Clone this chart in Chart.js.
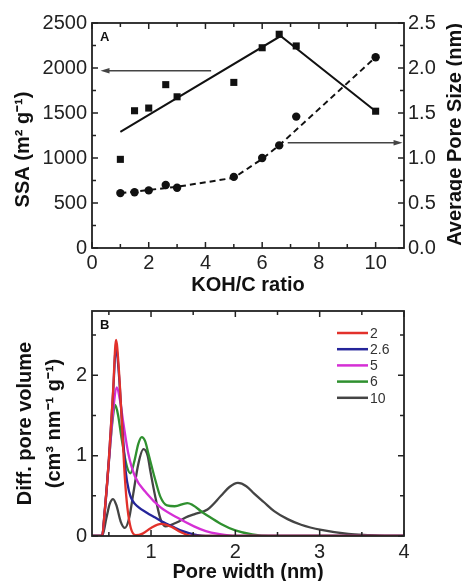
<!DOCTYPE html>
<html>
<head>
<meta charset="utf-8">
<script src="https://cdn.jsdelivr.net/npm/chart.js@4.4.0/dist/chart.umd.min.js"></script>
<style>
  html, body { margin: 0; padding: 0; background: #fff; overflow: hidden; }
  #wrap { position: relative; width: 462px; height: 581px; }
  #chartA { position: absolute; left: 0; top: 0; }
  #chartB { position: absolute; left: 0; top: 290px; }
</style>
</head>
<body>
<div id="wrap">
  <canvas id="chartA" width="462" height="300"></canvas>
  <canvas id="chartB" width="462" height="296"></canvas>
</div>
<script>
// ---- Panel A: SSA and average pore size vs KOH/C ratio
const kohRatio = [1, 1.5, 2, 2.6, 3, 5, 6, 6.6, 7.2, 10];
const ssa = [985, 1525, 1555, 1815, 1680, 1840, 2225, 2375, 2245, 1520];
const poreSize = [0.61, 0.62, 0.64, 0.70, 0.67, 0.79, 1.00, 1.14, 1.46, 2.12];

// guide lines through the points
const ssaTrendX = [1, 6.65, 10];
const ssaTrendY = [1290, 2355, 1520];
const poreTrendX = [1, 3, 5, 6, 6.6, 10];
const poreTrendY = [0.61, 0.68, 0.78, 0.99, 1.14, 2.12];

// arrows pointing at each axis (x from -> to, at y)
const ssaArrowX = [4.2, 0.3];
const ssaArrowY = 1970;
const poreArrowX = [6.9, 10.95];
const poreArrowY = 1.17;

const ratioTicks = [0, 2, 4, 6, 8, 10];
const ratioMinor = [1, 3, 5, 7, 9];
const ssaTicks = [0, 500, 1000, 1500, 2000, 2500];
const ssaMinor = [250, 750, 1250, 1750, 2250];
const poreSizeTicks = [0, 0.5, 1, 1.5, 2, 2.5];

// ---- Panel B: pore size distributions
const kohLabels = ["2", "2.6", "5", "6", "10"];
const width2 = [0.30, 0.42, 0.45, 0.50, 0.55, 0.585, 0.62, 0.655, 0.69, 0.72, 0.76, 0.82, 0.90, 1.00, 1.12, 1.25, 1.35, 1.48, 4.0];
const dpv2 = [0, 0, 0.30, 0.95, 1.80, 2.44, 2.05, 1.40, 0.72, 0.35, 0.10, 0.01, 0.03, 0.10, 0.15, 0.11, 0.05, 0, 0];
const width26 = [0.30, 0.42, 0.45, 0.50, 0.55, 0.585, 0.62, 0.66, 0.70, 0.74, 0.78, 0.85, 0.95, 1.05, 1.15, 1.25, 1.35, 1.45, 1.55, 1.65, 4.0];
const dpv26 = [0, 0, 0.30, 0.95, 1.78, 2.35, 2.0, 1.35, 0.80, 0.55, 0.44, 0.36, 0.29, 0.23, 0.17, 0.12, 0.07, 0.035, 0.01, 0, 0];
const width5 = [0.30, 0.42, 0.45, 0.50, 0.55, 0.595, 0.63, 0.67, 0.73, 0.81, 0.95, 1.11, 1.31, 1.51, 1.65, 1.8, 2.0, 4.0];
const dpv5 = [0, 0, 0.28, 0.92, 1.55, 1.85, 1.70, 1.42, 1.03, 0.74, 0.53, 0.36, 0.23, 0.12, 0.06, 0.025, 0, 0];
const width6 = [0.30, 0.42, 0.45, 0.50, 0.545, 0.575, 0.61, 0.65, 0.71, 0.755, 0.80, 0.85, 0.89, 0.93, 0.97, 1.05, 1.11, 1.19, 1.28, 1.43, 1.63, 1.83, 2.0, 2.2, 2.4, 4.0];
const dpv6 = [0, 0, 0.28, 0.92, 1.45, 1.63, 1.50, 1.22, 0.88, 0.78, 0.92, 1.15, 1.23, 1.18, 1.02, 0.70, 0.49, 0.38, 0.37, 0.41, 0.28, 0.15, 0.07, 0.02, 0, 0];
const width10 = [0.30, 0.42, 0.47, 0.51, 0.55, 0.59, 0.64, 0.69, 0.74, 0.79, 0.85, 0.91, 0.96, 0.99, 1.05, 1.11, 1.17, 1.24, 1.31, 1.41, 1.51, 1.67, 1.83, 1.93, 2.03, 2.13, 2.22, 2.34, 2.46, 2.62, 2.78, 3.02, 3.34, 3.6, 3.8, 4.0];
const dpv10 = [0, 0, 0.22, 0.40, 0.46, 0.38, 0.18, 0.10, 0.22, 0.53, 0.90, 1.08, 1.0, 0.82, 0.49, 0.22, 0.12, 0.14, 0.17, 0.23, 0.27, 0.33, 0.50, 0.61, 0.66, 0.62, 0.53, 0.42, 0.31, 0.21, 0.14, 0.075, 0.025, 0.01, 0, 0];
const curveColors = ["#e2312b", "#25259a", "#d52fd5", "#2f902f", "#444444"];

const widthTicks = [1, 2, 3, 4];
const widthMinor = [0.5, 1.5, 2.5, 3.5];
const dpvTicks = [0, 1, 2];
const dpvMinor = [0.5, 1.5, 2.5];

const FONT = '"Liberation Sans", Arial, sans-serif';
const tickFont = { family: FONT, size: 20 };
const titleFont = { family: FONT, size: 20, weight: "bold" };
const toPoints = (xs, ys) => xs.map((x, i) => ({ x, y: ys[i] }));
const setTicks = (vals) => (s) => { s.ticks = vals.map((v) => ({ value: v })); };

// frame, inward ticks and the panel letter
const frameTicks = {
  id: "frameTicks",
  afterDatasetsDraw(chart, args, opts) {
    const { ctx, chartArea: a, scales } = chart;
    ctx.save();
    ctx.strokeStyle = "#222";
    ctx.lineWidth = 1.5;
    ctx.beginPath();
    const mark = (scale, values, len) => {
      values.forEach((v) => {
        const p = scale.getPixelForValue(v);
        if (scale.isHorizontal()) {
          ctx.moveTo(p, a.bottom); ctx.lineTo(p, a.bottom - len);
          ctx.moveTo(p, a.top); ctx.lineTo(p, a.top + len);
        } else {
          ctx.moveTo(a.left, p); ctx.lineTo(a.left + len, p);
          ctx.moveTo(a.right, p); ctx.lineTo(a.right - len, p);
        }
      });
    };
    mark(scales.x, opts.xMajor, 6);
    mark(scales.x, opts.xMinor, 4);
    mark(scales.y, opts.yMajor, 6);
    mark(scales.y, opts.yMinor, 4);
    ctx.stroke();
    ctx.lineWidth = 1.8;
    ctx.strokeRect(a.left, a.top, a.right - a.left, a.bottom - a.top);
    ctx.fillStyle = "#111";
    ctx.font = "bold 13px " + FONT;
    ctx.textBaseline = "middle";
    ctx.fillText(opts.letter, a.left + 8, a.top + 14);
    ctx.restore();
  },
};

// panel A: arrows and both rotated axis titles
const arrowsAndTitles = {
  id: "arrowsAndTitles",
  afterDraw(chart) {
    const { ctx, chartArea: a, scales } = chart;
    const arrow = (xs, yVal, yScale) => {
      const x0 = scales.x.getPixelForValue(xs[0]);
      const x1 = scales.x.getPixelForValue(xs[1]);
      const y = yScale.getPixelForValue(yVal);
      const dir = Math.sign(x1 - x0);
      ctx.beginPath();
      ctx.moveTo(x0, y); ctx.lineTo(x1 - dir * 6, y);
      ctx.stroke();
      ctx.beginPath();
      ctx.moveTo(x1, y);
      ctx.lineTo(x1 - dir * 9, y - 2.8);
      ctx.lineTo(x1 - dir * 9, y + 2.8);
      ctx.closePath();
      ctx.fill();
    };
    ctx.save();
    ctx.strokeStyle = "#444";
    ctx.fillStyle = "#444";
    ctx.lineWidth = 1.5;
    arrow(ssaArrowX, ssaArrowY, scales.y);
    arrow(poreArrowX, poreArrowY, scales.y2);

    const mid = (a.top + a.bottom) / 2;
    ctx.font = "bold 20px " + FONT;
    ctx.fillStyle = "#111";
    ctx.textAlign = "center";
    ctx.textBaseline = "middle";
    [[23, mid + 14, "SSA (m² g⁻¹)"], [455, mid - 1, "Average Pore Size (nm)"]].forEach(([x, y, t]) => {
      ctx.save();
      ctx.translate(x, y);
      ctx.rotate(-Math.PI / 2);
      ctx.fillText(t, 0, 0);
      ctx.restore();
    });
    ctx.restore();
  },
};

// panel B: legend in the upper right of the plot
const legendB = {
  id: "legendB",
  afterDraw(chart) {
    const { ctx, chartArea: a } = chart;
    ctx.save();
    ctx.font = "14px " + FONT;
    ctx.textBaseline = "middle";
    chart.data.datasets.forEach((ds, i) => {
      const y = a.top + 22 + i * 16.2;
      const x0 = a.right - 67;
      ctx.strokeStyle = ds.borderColor;
      ctx.lineWidth = 2.5;
      ctx.beginPath();
      ctx.moveTo(x0, y);
      ctx.lineTo(x0 + 31, y);
      ctx.stroke();
      ctx.fillStyle = "#333";
      ctx.fillText(ds.label, x0 + 33, y + 1);
    });
    ctx.restore();
  },
};

new Chart(document.getElementById("chartA"), {
  type: "scatter",
  data: {
    datasets: [
      { data: toPoints(ssaTrendX, ssaTrendY), showLine: true, borderColor: "#111", borderWidth: 2, pointRadius: 0, yAxisID: "y" },
      { data: toPoints(kohRatio, ssa), pointStyle: "rect", pointRadius: 5, backgroundColor: "#111", borderWidth: 0, yAxisID: "y" },
      { data: toPoints(poreTrendX, poreTrendY), showLine: true, borderDash: [6, 4], borderColor: "#111", borderWidth: 2, pointRadius: 0, yAxisID: "y2" },
      { data: toPoints(kohRatio, poreSize), pointStyle: "circle", pointRadius: 4.2, backgroundColor: "#111", borderWidth: 0, yAxisID: "y2" },
    ],
  },
  options: {
    responsive: false,
    animation: false,
    layout: { padding: { top: 23, left: 0, right: 0, bottom: 0 } },
    plugins: {
      legend: { display: false },
      tooltip: { enabled: false },
      frameTicks: { xMajor: ratioTicks, xMinor: ratioMinor, yMajor: ssaTicks, yMinor: ssaMinor, letter: "A" },
    },
    scales: {
      x: {
        type: "linear", min: 0, max: 11,
        afterBuildTicks: setTicks(ratioTicks),
        afterFit: (s) => { s.height = 52; },
        grid: { display: false, drawTicks: false },
        border: { display: false },
        ticks: { padding: 3, color: "#222", font: tickFont, maxRotation: 0, autoSkip: false, callback: (v) => String(v) },
        title: { display: true, text: "KOH/C ratio", color: "#111", font: titleFont, padding: { top: 0, bottom: 3 } },
      },
      y: {
        position: "left", min: 0, max: 2500,
        afterBuildTicks: setTicks(ssaTicks),
        afterFit: (s) => { s.width = 92; },
        grid: { display: false, drawTicks: false },
        border: { display: false },
        ticks: { padding: 5, color: "#222", font: tickFont, callback: (v) => String(v) },
      },
      y2: {
        position: "right", min: 0, max: 2.5,
        afterBuildTicks: setTicks(poreSizeTicks),
        afterFit: (s) => { s.width = 58; },
        grid: { display: false, drawTicks: false },
        border: { display: false },
        ticks: { padding: 4, color: "#222", font: tickFont, callback: (v) => v.toFixed(1) },
      },
    },
  },
  plugins: [frameTicks, arrowsAndTitles],
});

const widths = [width2, width26, width5, width6, width10];
const dpvs = [dpv2, dpv26, dpv5, dpv6, dpv10];

new Chart(document.getElementById("chartB"), {
  type: "scatter",
  data: {
    datasets: kohLabels.map((label, i) => ({
      label,
      data: toPoints(widths[i], dpvs[i]),
      showLine: true,
      borderColor: curveColors[i],
      borderWidth: 2.3,
      pointRadius: 0,
      cubicInterpolationMode: "monotone",
    })),
  },
  options: {
    responsive: false,
    animation: false,
    layout: { padding: { top: 21, left: 0, right: 58, bottom: 0 } },
    plugins: {
      legend: { display: false },
      tooltip: { enabled: false },
      frameTicks: { xMajor: widthTicks, xMinor: widthMinor, yMajor: dpvTicks, yMinor: dpvMinor, letter: "B" },
    },
    scales: {
      x: {
        type: "linear", min: 0.3, max: 4,
        afterBuildTicks: setTicks(widthTicks),
        afterFit: (s) => { s.height = 50; },
        grid: { display: false, drawTicks: false },
        border: { display: false },
        ticks: { padding: 4, color: "#222", font: tickFont, maxRotation: 0, autoSkip: false, callback: (v) => String(v) },
        title: { display: true, text: "Pore width (nm)", color: "#111", font: titleFont, padding: { top: 0, bottom: 2 } },
      },
      y: {
        min: 0, max: 2.8,
        afterBuildTicks: setTicks(dpvTicks),
        afterFit: (s) => { s.width = 92; },
        grid: { display: false, drawTicks: false },
        border: { display: false },
        ticks: { padding: 5, color: "#222", font: tickFont, callback: (v) => String(v) },
        title: {
          display: true,
          text: ["Diff. pore volume", "(cm³ nm⁻¹ g⁻¹)"],
          color: "#111",
          font: { family: FONT, size: 20, weight: "bold", lineHeight: 1.45 },
          padding: { top: 10.5, bottom: 0 },
        },
      },
    },
  },
  plugins: [frameTicks, legendB],
});
</script>
</body>
</html>
